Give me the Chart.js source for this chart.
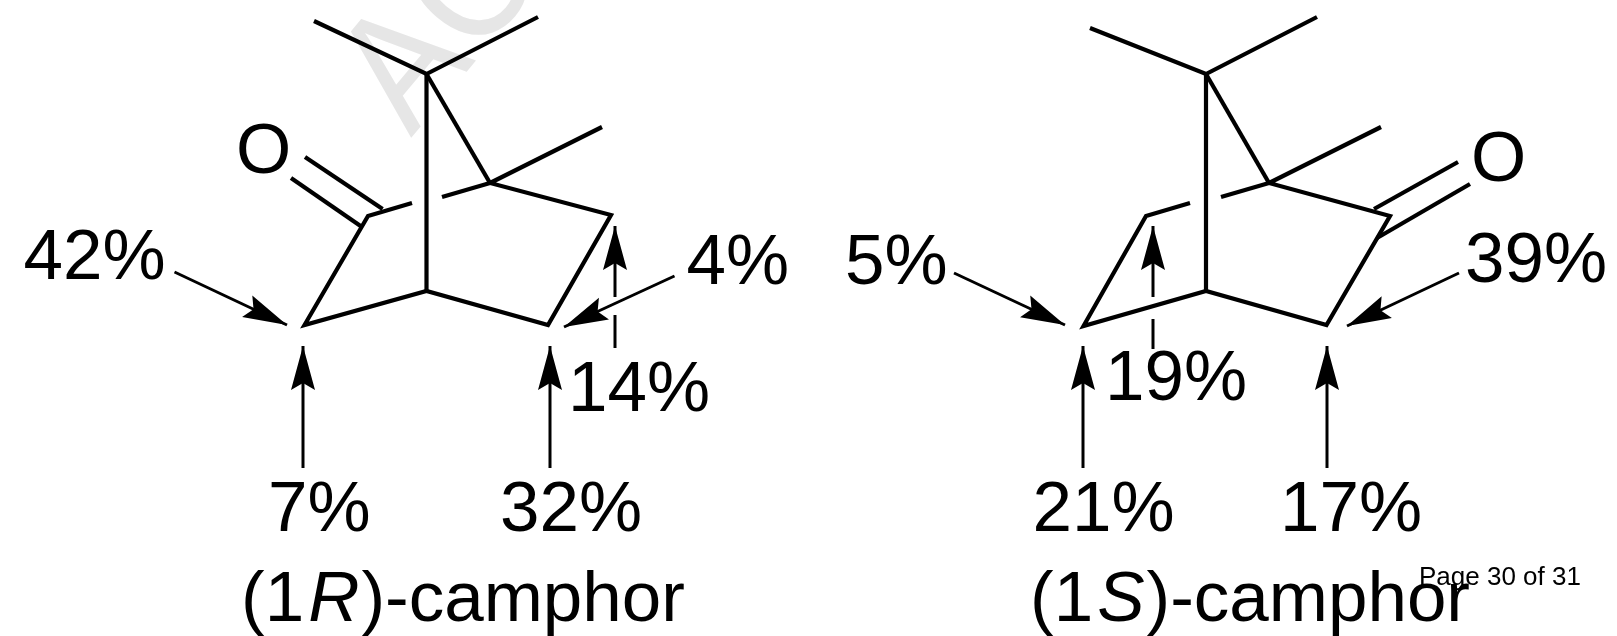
<!DOCTYPE html>
<html><head><meta charset="utf-8">
<style>html,body{margin:0;padding:0;background:#fff}canvas{display:block}</style>
<script src="https://cdn.jsdelivr.net/npm/chart.js@4"></script></head>
<body><canvas id="c" width="1617" height="636" style="width:1617px;height:636px"></canvas>
<script>
// Skeleton bonds, in picture units: each entry is a polyline
const bondsR = [
  [[314,21],[426.5,74],[538,17]],
  [[426.5,74],[426.5,291]],
  [[426.5,74],[490,183]],
  [[602,127],[490,183],[611,215],[548,325],[426.5,291],[304.5,325],[368,216],[412,203]],
  [[442,197],[490,183]],
  [[382.6,209],[305,157]],
  [[362,227],[291,178]]
];
const bondsS = [
  [[1090,28],[1206,74],[1317,17]],
  [[1206,74],[1206,291]],
  [[1206,74],[1269,183]],
  [[1381,127],[1269,183],[1390,216],[1326.5,325],[1206,291],[1083.5,326],[1146,216],[1190,203]],
  [[1221,197],[1269,183]],
  [[1374,209],[1458,162]],
  [[1377,238],[1470,184]]
];
// Arrows: from -> tip
const arrows = [
  [[174.5,272],[287,325]],
  [[674.5,276],[564,327]],
  [[303,468],[303,346]],
  [[550,468],[550,346]],
  [[954,273],[1065,325]],
  [[1459,273],[1347,326]],
  [[1083,468],[1083,346]],
  [[1327,468],[1327,346]],
  [[615,297],[615,226]],
  [[1153,297],[1153,226]]
];
const shaftStubs = [
  [[615,348],[615,315]],
  [[1153,349],[1153,319]]
];
// Text labels
const pctText = ['42%','4%','14%','7%','32%','5%','39%','19%','21%','17%'];
const pctX    = [23.5,686.5,568, 268, 500,  845, 1465,1105,1032.5,1280];
const pctY    = [279, 284, 411,  531, 531,  284, 282, 400, 531, 531];
const oxygenX = [236,1471];
const oxygenY = [172.5,181];
const nameParts = [['(1','R',')-camphor'],['(1','S',')-camphor']];
const nameX = [241,1030];
const nameY = [621,621];
const FONT = '"Liberation Sans"';

const ds = [];
[bondsR,bondsS].forEach(g=>g.forEach(l=>ds.push({
  data:l.map(p=>({x:p[0],y:p[1]})),showLine:true,borderColor:'#000',borderWidth:4.2,pointRadius:0,
  borderCapStyle:'butt',borderJoinStyle:'miter',tension:0,fill:false})));
arrows.concat(shaftStubs).forEach(l=>ds.push({
  data:l.map(p=>({x:p[0],y:p[1]})),showLine:true,borderColor:'#000',borderWidth:3,pointRadius:0,
  borderCapStyle:'butt',tension:0,fill:false}));

const deco = {
  id:'deco',
  beforeDatasetsDraw(ch){
    const c=ch.ctx,X=ch.scales.x,Y=ch.scales.y;
    c.save();c.fillStyle='#e6e6e6';c.font='160px '+FONT;
    c.translate(X.getPixelForValue(411),Y.getPixelForValue(138));c.rotate(-50*Math.PI/180);c.scale(0.95,1.04);
    c.fillText('ACCEPTED MANUSCRIPT',0,0);c.restore();
  },
  afterDatasetsDraw(ch){
    const c=ch.ctx,X=ch.scales.x,Y=ch.scales.y;
    c.save();c.fillStyle='#000';
    arrows.forEach(a=>{
      const x0=X.getPixelForValue(a[0][0]),y0=Y.getPixelForValue(a[0][1]);
      const x1=X.getPixelForValue(a[1][0]),y1=Y.getPixelForValue(a[1][1]);
      const t=Math.atan2(y1-y0,x1-x0);
      c.save();c.translate(x1,y1);c.rotate(t);
      c.beginPath();c.moveTo(0,0);c.lineTo(-44,-12);c.lineTo(-37,0);c.lineTo(-44,12);c.closePath();c.fill();
      c.restore();
    });
    c.textBaseline='alphabetic';c.textAlign='left';
    c.font='71px '+FONT;
    pctText.forEach((s,i)=>c.fillText(s,X.getPixelForValue(pctX[i]),Y.getPixelForValue(pctY[i])));
    oxygenX.forEach((x,i)=>c.fillText('O',X.getPixelForValue(x),Y.getPixelForValue(oxygenY[i])));
    nameParts.forEach((p,i)=>{
      let x=X.getPixelForValue(nameX[i]);const y=Y.getPixelForValue(nameY[i]);
      c.font='71px '+FONT;c.fillText(p[0],x,y);x+=c.measureText(p[0]).width+4;
      c.font='italic 71px '+FONT;c.fillText(p[1],x,y);x+=c.measureText(p[1]).width+2;
      c.font='71px '+FONT;c.fillText(p[2],x,y);
    });
    c.font='26px '+FONT;
    c.fillText('Page 30 of 31',X.getPixelForValue(1419),Y.getPixelForValue(585));
    c.restore();
  }
};
new Chart(document.getElementById('c'),{
  type:'scatter',
  data:{datasets:ds},
  options:{responsive:false,animation:false,devicePixelRatio:1,
    layout:{padding:0},
    plugins:{legend:{display:false},tooltip:{enabled:false},title:{display:false}},
    scales:{x:{type:'linear',min:0,max:1617,display:false},y:{type:'linear',min:0,max:636,reverse:true,display:false}}},
  plugins:[deco]
});
</script></body></html>
